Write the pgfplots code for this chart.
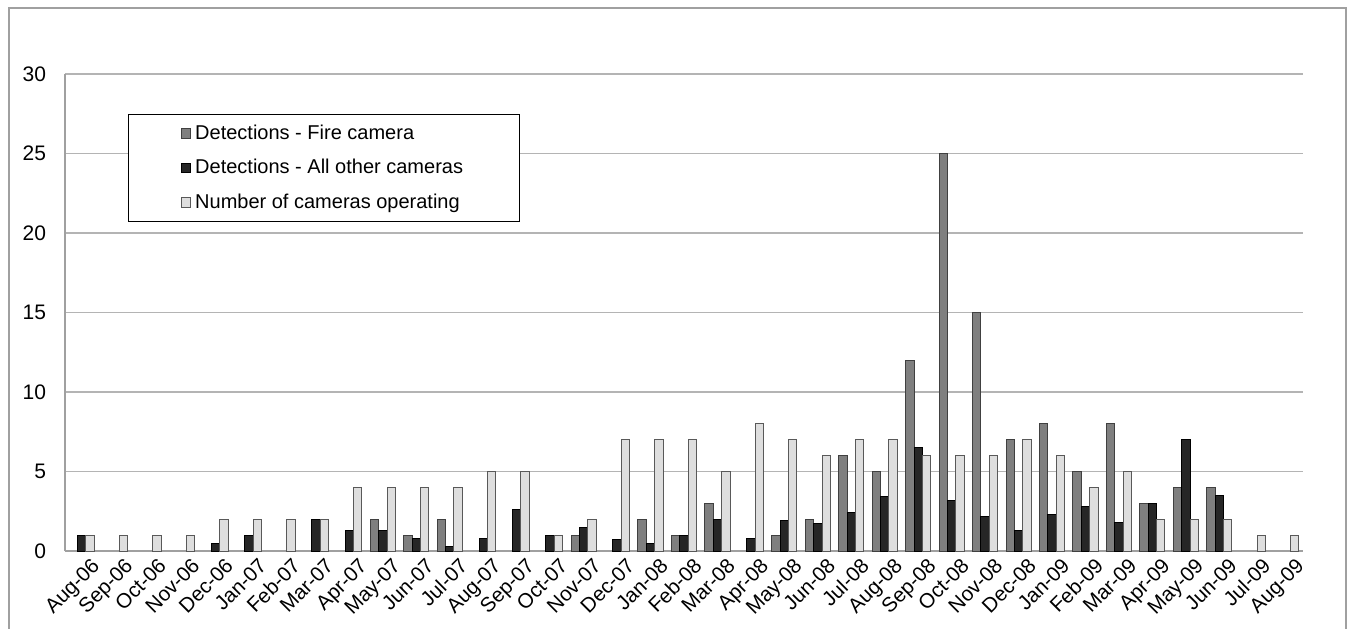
\documentclass[border=0pt]{standalone}
\usepackage{fontspec}
\setmainfont{Liberation Sans}
\usepackage{pgfplots}
\pgfplotsset{compat=1.18}
\definecolor{firec}{HTML}{7F7F7F}
\definecolor{otherc}{HTML}{262626}
\definecolor{camc}{HTML}{DEDEDE}
\definecolor{gridc}{HTML}{B4B4B4}
\definecolor{framec}{HTML}{A0A0A0}
\begin{document}
\begin{tikzpicture}
\useasboundingbox (0,0) rectangle (674pt,314pt);
\fill[white] (0,0) rectangle (674pt,314pt);
\draw[framec, line width=0.9pt] (4.5pt,-5pt) -- (4.5pt,310pt) -- (673pt,310pt) -- (673pt,-5pt);
\begin{axis}[
  at={(32.5pt,38.5pt)}, anchor=south west,
  scale only axis, width=619pt, height=238.5pt,
  xmin=-0.5, xmax=36.5, ymin=0, ymax=30,
  ytick={0,5,...,30},
  xtick={0,...,36},
  xticklabels={Aug-06,Sep-06,Oct-06,Nov-06,Dec-06,Jan-07,Feb-07,Mar-07,Apr-07,May-07,Jun-07,Jul-07,Aug-07,Sep-07,Oct-07,Nov-07,Dec-07,Jan-08,Feb-08,Mar-08,Apr-08,May-08,Jun-08,Jul-08,Aug-08,Sep-08,Oct-08,Nov-08,Dec-08,Jan-09,Feb-09,Mar-09,Apr-09,May-09,Jun-09,Jul-09,Aug-09},
  axis x line*=bottom, axis y line*=left,
  axis line style={framec, line width=0.75pt, -},
  major tick length=0pt,
  ymajorgrids, grid style={gridc, line width=0.75pt},
  /pgf/number format/assume math mode=true,
  yticklabel style={font=\fontsize{10.5}{12}\selectfont, xshift=-6pt},
  xticklabel style={font=\fontsize{10.3}{12}\selectfont, rotate=45, anchor=north east, inner sep=1pt, yshift=-4pt, xshift=2pt},
  legend style={at={(0.0509,0.916)}, anchor=north west, draw=black, line width=0.6pt,
    font=\fontsize{10}{12}\selectfont, inner xsep=26pt, inner ysep=3pt, row sep=4.5pt, fill=white},
  legend cell align=left,
  legend image code/.code={\draw[#1, line width=0.5pt] (0pt,-2.4pt) rectangle (4.8pt,2.4pt);},
  every axis plot/.append style={ybar, bar width=0.25, line width=0.5pt},
]
\addplot[fill=firec, draw=black!75, bar shift=-0.25] coordinates {
(9,2) (10,1) (11,2) (15,1) (17,2) (18,1) (19,3) (21,1) (22,2) (23,6) (24,5) (25,12) (26,25) (27,15) (28,7) (29,8) (30,5) (31,8) (32,3) (33,4) (34,4)};
\addplot[fill=otherc, draw=black, bar shift=0] coordinates {
(0,1) (4,0.5) (5,1) (7,2) (8,1.3) (9,1.3) (10,0.8) (11,0.3) (12,0.8) (13,2.6) (14,1) (15,1.5) (16,0.7) (17,0.5) (18,1) (19,2) (20,0.8) (21,1.9) (22,1.7) (23,2.4) (24,3.4) (25,6.5) (26,3.2) (27,2.2) (28,1.3) (29,2.3) (30,2.8) (31,1.8) (32,3) (33,7) (34,3.5)};
\addplot[fill=camc, draw=black!65, bar shift=0.25] coordinates {
(0,1) (1,1) (2,1) (3,1) (4,2) (5,2) (6,2) (7,2) (8,4) (9,4) (10,4) (11,4) (12,5) (13,5) (14,1) (15,2) (16,7) (17,7) (18,7) (19,5) (20,8) (21,7) (22,6) (23,7) (24,7) (25,6) (26,6) (27,6) (28,7) (29,6) (30,4) (31,5) (32,2) (33,2) (34,2) (35,1) (36,1)};
\legend{Detections - Fire camera, Detections - All other cameras, Number of cameras operating}
\end{axis}
\end{tikzpicture}
\end{document}
